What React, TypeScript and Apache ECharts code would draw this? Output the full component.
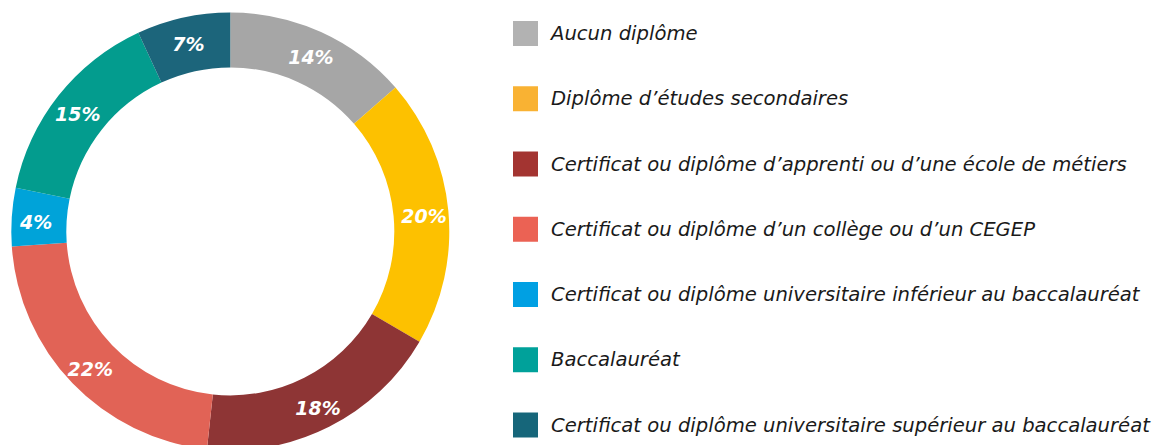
import React, { useEffect, useRef } from "react";
import * as echarts from "echarts";

const categories = [
  "Aucun diplôme",
  "Diplôme d’études secondaires",
  "Certificat ou diplôme d’apprenti ou d’une école de métiers",
  "Certificat ou diplôme d’un collège ou d’un CEGEP",
  "Certificat ou diplôme universitaire inférieur au baccalauréat",
  "Baccalauréat",
  "Certificat ou diplôme universitaire supérieur au baccalauréat",
];
// shares (labels show them rounded)
const values = [13.6, 19.8, 18.3, 22.2, 4.3, 14.9, 6.9];
const sliceColors = ["#A6A6A6", "#FDC100", "#8E3535", "#E16356", "#00A3D9", "#039C8E", "#1C657B"];
const legendColors = ["#B2B2B2", "#F9B233", "#A33431", "#EB6254", "#00A0E3", "#00A19A", "#16667A"];

export default function App() {
  const ref = useRef<HTMLDivElement>(null);
  useEffect(() => {
    if (!ref.current) return;
    const chart = echarts.init(ref.current, null, { renderer: "svg" });
    chart.setOption({
      animation: false,
      legend: {
        orient: "vertical",
        left: 513,
        top: 21,
        padding: 0,
        itemWidth: 25,
        itemHeight: 25,
        itemGap: 40.25,
        icon: "rect",
        selectedMode: false,
        data: categories.map((c, i) => ({ name: c, itemStyle: { color: legendColors[i] } })),
        textStyle: {
          fontFamily: "DejaVu Sans",
          fontStyle: "italic",
          fontSize: 19.6,
          color: "#1a1a1a",
          padding: [0, 0, 0, 8],
        },
      },
      series: [
        {
          type: "pie",
          center: [230.3, 231.4],
          radius: [164, 219],
          startAngle: 90,
          clockwise: true,
          silent: true,
          label: {
            position: "inside",
            formatter: (p: any) => Math.round(p.value) + "%",
            color: "#ffffff",
            fontFamily: "DejaVu Sans",
            fontWeight: "bold",
            fontStyle: "italic",
            fontSize: 19,
            offset: [0, 3],
          },
          labelLine: { show: false },
          itemStyle: { borderWidth: 0 },
          data: categories.map((c, i) => ({
            name: c,
            value: values[i],
            itemStyle: { color: sliceColors[i] },
          })),
        },
      ],
    });
    return () => chart.dispose();
  }, []);
  return (
    <div
      ref={ref}
      style={{ position: "fixed", left: 0, top: 0, width: 1153, height: 445, background: "#fff" }}
    />
  );
}
